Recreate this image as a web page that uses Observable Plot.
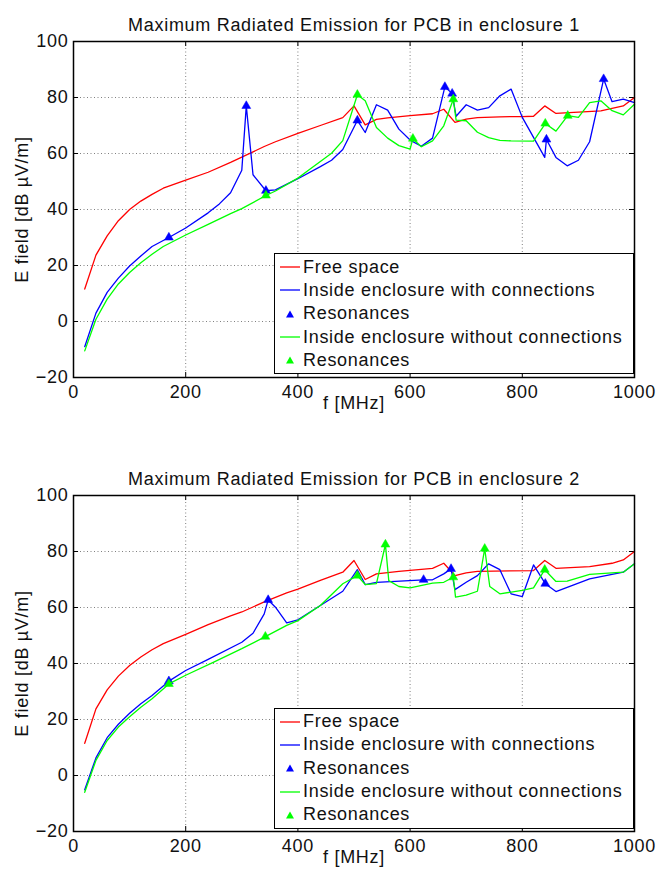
<!DOCTYPE html>
<html>
<head>
<meta charset="utf-8">
<script src="https://cdn.jsdelivr.net/npm/d3@7"></script>
<script src="https://cdn.jsdelivr.net/npm/@observablehq/plot@0.6"></script>
<style>
  body { margin: 0; background: #fff; }
  #wrap { position: relative; width: 657px; height: 873px; font-family: "Liberation Sans", Arial, sans-serif; }
  .legend { position: absolute; background: #fff; border: 1.3px solid #000; box-sizing: border-box;
            font-family: "Liberation Sans", Arial, sans-serif; font-size: 18px; letter-spacing: 0.7px; color: #111; }
  .row { position: absolute; left: 0; height: 23.3px; display: flex; align-items: center; white-space: nowrap; }
  .row svg { display: block; margin-left: 5px; margin-right: 3px; }
</style>
</head>
<body>
<div id="wrap"></div>
<script>
// ---------- data ----------
const X_TICKS = [0, 200, 400, 600, 800, 1000];
const Y_TICKS = [-20, 0, 20, 40, 60, 80, 100];
const TITLES = ["Maximum Radiated Emission for PCB in enclosure 1", "Maximum Radiated Emission for PCB in enclosure 2"];
const X_LABEL = "f [MHz]";
const Y_LABEL = "E field [dB µV/m]";
const LEGEND_LABELS = ["Free space", "Inside enclosure with connections", "Resonances", "Inside enclosure without connections", "Resonances"];

// Enclosure 1
const free1F = [20,40,60,80,100,120,140,160,200,240,280,320,340,360,400,440,480,500,520,540,560,600,640,660,680,700,720,760,800,820,840,860,900,940,980,1000];
const free1E = [11.6,23.7,30.6,36,40,43,45.4,47.6,50.5,53.3,56.8,60.6,62.5,64.2,67.2,70,72.8,77,70.2,72.2,72.7,73.5,74.2,75.8,71.1,72.3,72.8,73.1,73.2,73.3,77,74.3,74.8,75.2,77,80];
const with1F = [20,40,60,80,100,120,140,170,200,240,260,280,300,308,320,343,360,400,440,460,480,506,520,540,560,580,600,620,640,662,675,682,700,720,740,760,780,800,840,843,860,880,900,920,945,960,980,1000];
const with1E = [-9,3,10.4,15.5,19.8,23.4,26.8,30,33.4,38.8,42,46,54,77,52.4,46.7,47,51,55.3,57.6,61.4,71.8,67.5,77.4,75.5,68.7,64.8,62.6,65.5,83.8,81.4,73.3,77.4,75.5,76.4,80.6,83,72.9,58.6,65,58.6,55.6,57.6,64.2,86.6,78.5,79.4,78.2];
const without1F = [20,40,60,80,100,120,140,160,200,240,280,300,343,360,400,420,460,480,506,520,540,560,580,600,605,620,640,660,677,682,700,720,740,760,780,820,841,860,881,900,920,940,960,980,1000];
const without1E = [-10.5,0.8,8,13.4,17.5,21,24,26.8,30.9,34.7,38.5,40.3,45,46.6,51.2,54.2,60.1,64.6,81,78.8,69.3,65.5,62.8,61.6,65.3,62.4,64.5,69.9,79.4,71.9,71.7,67.6,65.7,64.7,64.5,64.4,70.7,68,73.5,72.9,78.2,78.8,75.3,73.8,77.6];
const res1WithF = [170,308,343,506,662,675,843,945];
const res1WithE = [30,77,46.7,71.8,83.8,81.4,65,86.6];
const res1WithoutF = [343,506,605,677,841,881];
const res1WithoutE = [45,81,65.3,79.4,70.7,73.5];

// Enclosure 2
const free2F = [20,40,60,80,100,120,140,160,200,240,280,300,340,380,400,440,480,500,520,540,580,640,660,680,700,720,820,840,860,920,960,980,1000];
const free2E = [11.5,23.8,30.6,35.5,39.3,42.3,44.9,47.1,50.4,53.9,57,58.4,62,65.2,66.6,69.7,72.6,76.8,70,72,72.9,74,75.8,71.4,72.4,72.9,73.2,76.8,74,74.6,75.8,77,80];
const with2F = [20,40,60,80,100,120,140,170,200,240,300,320,340,347,360,380,400,440,480,506,520,540,624,640,660,673,680,700,720,740,760,780,800,820,841,860,920,980,1000];
const with2E = [-5.1,6.3,13.5,18.3,22.2,25.6,28.6,33.7,37.5,41.5,47.6,50.8,57.7,62.7,60.1,54.5,55.6,60.7,65.8,73.5,68.2,69,69.9,69.9,72,73.8,66.4,69,71.4,75.6,73.5,64.9,63.9,75.2,68.5,65.7,70.2,72.6,75.6];
const without2F = [20,40,60,80,100,120,140,170,200,250,300,342,380,400,440,480,506,520,540,556,562,580,600,640,660,677,681,700,720,733,742,760,800,820,840,860,880,920,980,1000];
const without2E = [-6,5.4,12.5,17.3,21,24.4,27.4,32.7,35.8,40.5,45.3,49.6,53.6,55.3,60.7,68.5,71.4,68.2,68.5,82.5,69.6,67.5,67,68.7,69,70.8,63.7,64.4,65.8,81,67.5,64.9,66.1,67,73.5,69.3,69.4,71.8,72.6,75.6];
const res2WithF = [170,347,624,673,841];
const res2WithE = [33.7,62.7,69.9,73.8,68.5];
const res2WithoutF = [170,342,506,556,677,733,840];
const res2WithoutE = [32.7,49.6,71.4,82.5,70.8,81,73.5];

// ---------- drawing ----------
const RED = "#ff0000", BLUE = "#0000ff", GREEN = "#00ff00";
const rows = (F, E) => F.map((f, i) => ({f, e: E[i]}));
const fmt = d => (d < 0 ? "\u2212" + (-d) : String(d));
const FONT = {fontFamily: "'Liberation Sans', Arial, sans-serif", fontSize: "18px", letterSpacing: "0.7px", background: "#fff", display: "block", overflow: "visible"};

function chart(title, free, withC, without, resW, resWo, height, marginBottom) {
  return Plot.plot({
    width: 657, height,
    marginLeft: 73, marginRight: 23, marginTop: 41, marginBottom,
    style: FONT,
    x: {domain: [0, 1000]},
    y: {domain: [-20, 100]},
    marks: [
      Plot.gridX(X_TICKS.slice(1, -1), {stroke: "#555", strokeOpacity: 0.75, strokeDasharray: "1,2.5", strokeWidth: 1}),
      Plot.gridY(Y_TICKS.slice(1, -1), {stroke: "#555", strokeOpacity: 0.75, strokeDasharray: "1,2.5", strokeWidth: 1}),
      Plot.ruleX(X_TICKS, {y1: -20, y2: -18.2, stroke: "#000"}),
      Plot.ruleX(X_TICKS, {y1: 100, y2: 98.2, stroke: "#000"}),
      Plot.ruleY(Y_TICKS, {x1: 0, x2: 9, stroke: "#000"}),
      Plot.ruleY(Y_TICKS, {x1: 991, x2: 1000, stroke: "#000"}),
      Plot.line(free, {x: "f", y: "e", stroke: RED, strokeWidth: 1.3}),
      Plot.line(withC, {x: "f", y: "e", stroke: BLUE, strokeWidth: 1.3}),
      Plot.dot(resW, {x: "f", y: "e", symbol: "triangle", r: 3.3, fill: BLUE, stroke: BLUE, strokeWidth: 0.5}),
      Plot.line(without, {x: "f", y: "e", stroke: GREEN, strokeWidth: 1.3}),
      Plot.dot(resWo, {x: "f", y: "e", symbol: "triangle", r: 3.3, fill: GREEN, stroke: GREEN, strokeWidth: 0.5}),
      Plot.frame({stroke: "#000", strokeWidth: 1.5}),
      Plot.axisX(X_TICKS, {tickSize: 0, tickPadding: 8, label: null, fill: "#111", tickFormat: fmt}),
      Plot.axisY(Y_TICKS, {tickSize: 0, tickPadding: 5, label: null, fill: "#111", tickFormat: fmt}),
      Plot.text([title], {text: d => d, frameAnchor: "top", dy: -23, fill: "#111"}),
      Plot.text([X_LABEL], {text: d => d, frameAnchor: "bottom", dy: 31, fill: "#111"}),
      Plot.text([Y_LABEL], {text: d => d, frameAnchor: "left", dx: -51, rotate: -90, textAnchor: "middle", lineAnchor: "middle", fill: "#111"})
    ]
  });
}

function legend(top) {
  const div = document.createElement("div");
  div.className = "legend";
  Object.assign(div.style, {left: "274px", top: top + "px", width: "360px", height: "121px"});
  const kinds = [["line", RED], ["line", BLUE], ["tri", BLUE], ["line", GREEN], ["tri", GREEN]];
  LEGEND_LABELS.forEach((lab, i) => {
    const [k, c] = kinds[i];
    const sw = k === "line"
      ? `<svg width="20" height="10"><line x1="0" x2="20" y1="5" y2="5" stroke="${c}" stroke-width="1.3"/></svg>`
      : `<svg width="20" height="10"><path d="M10,1.5 L14,8.5 L6,8.5 Z" fill="${c}"/></svg>`;
    const r = document.createElement("div");
    r.className = "row";
    r.style.top = (1.5 + i * 23.3) + "px";
    r.innerHTML = sw + `<span>${lab}</span>`;
    div.appendChild(r);
  });
  return div;
}

const wrap = document.getElementById("wrap");
wrap.appendChild(chart(TITLES[0], rows(free1F, free1E), rows(with1F, with1E), rows(without1F, without1E),
  rows(res1WithF, res1WithE), rows(res1WithoutF, res1WithoutE), 454, 77));
wrap.appendChild(chart(TITLES[1], rows(free2F, free2E), rows(with2F, with2E), rows(without2F, without2E),
  rows(res2WithF, res2WithE), rows(res2WithoutF, res2WithoutE), 419, 42));
wrap.appendChild(legend(253));
wrap.appendChild(legend(707.5));
</script>
</body>
</html>
